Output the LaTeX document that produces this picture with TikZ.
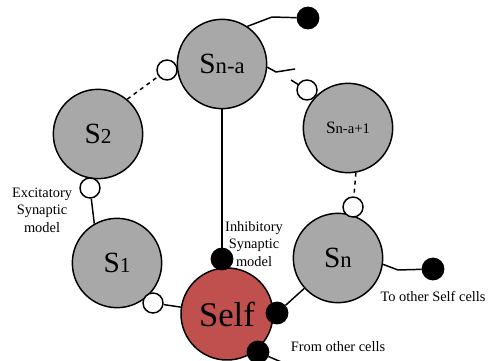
\documentclass[tikz,border=0pt]{standalone}
\usepackage{fontspec}
\setmainfont{Liberation Serif}
\usetikzlibrary{calc}

\definecolor{cellgray}{HTML}{A8A8A8}
\definecolor{selfred}{HTML}{C0504D}

\begin{document}
\begin{tikzpicture}[x=0.75pt, y=-0.75pt, line width=1.1pt,
    cell/.style={circle, draw, fill=cellgray, minimum size=67pt, inner sep=0pt},
    excit/.style={circle, draw, fill=white, minimum size=15pt, inner sep=0pt},
    inhib/.style={circle, draw, fill=black, minimum size=16pt, inner sep=0pt},
    note/.style={font=\fontsize{10.8}{13}\selectfont, align=center}]
    \useasboundingbox (0,0) rectangle (488,360);
    % cells
    \node[cell] (sna) at (222,64) {\fontsize{22}{22}\selectfont S\fontsize{17}{17}\selectfont n-a};
    \node[cell] (s2) at (98,134) {\fontsize{22}{22}\selectfont S\fontsize{16}{16}\selectfont 2};
    \node[cell] (snap1) at (348,128) {\fontsize{13}{13}\selectfont S\fontsize{11}{11}\selectfont n-a+1};
    \node[cell] (sn) at (338,258) {\fontsize{22}{22}\selectfont S\fontsize{17}{17}\selectfont n};
    \node[cell] (s1) at (117,263) {\fontsize{22}{22}\selectfont S\fontsize{16}{16}\selectfont 1};
    \node[cell, fill=selfred, minimum size=69pt] (self) at (227,314) {\fontsize{26}{26}\selectfont Self};
    % synapses
    \node[excit] (e1) at (167,70) {};
    \node[excit] (e2) at (90,188) {};
    \node[excit] (e3) at (153,303) {};
    \node[excit] (e4) at (307,90) {};
    \node[excit] (e5) at (353,207) {};
    \node[inhib] (d1) at (308,18) {};
    \node[inhib] (d2) at (222,259) {};
    \node[inhib] (d3) at (277,313) {};
    \node[inhib] (d4) at (258,352) {};
    \node[inhib] (d5) at (433,269) {};
    \coordinate (k1) at (272,17);
    \coordinate (k2) at (276,72);
    \coordinate (k3) at (295,69);
    \coordinate (k4) at (291,80);
    \coordinate (k5) at (398,270);
    \coordinate (k6) at (286,364);
    % connectors
    \draw[dashed] (s2.50) -- (e1);
    \draw (e2) -- (s1.120);
    \draw (e3) -- (self);
    \draw (sna.56) -- (k1) -- (d1);
    \draw (sna) -- (d2);
    \draw (sna.-4) -- (k2) -- (k3);
    \draw (k4) -- (e4);
    \draw[dashed] (snap1.-80) -- (e5);
    \draw (sn) -- (d3);
    \draw (sn.-8) -- (k5) -- (d5);
    \draw (d4) -- (k6);
    % labels
    \node[note] (lexc) at (42,210) {Excitatory\\Synaptic\\model};
    \node[note] (linh) at (254,244) {Inhibitory\\Synaptic\\model};
    \node[note] (lto) at (433,296) {To other Self cells};
    \node[note] (lfrom) at (338,347) {From other cells};
\end{tikzpicture}
\end{document}
